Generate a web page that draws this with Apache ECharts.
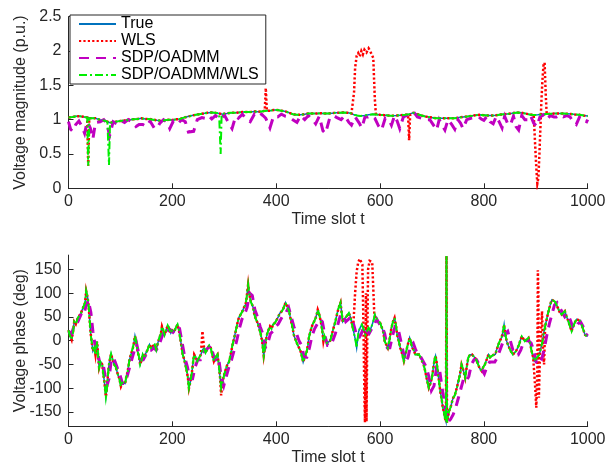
<!DOCTYPE html>
<html>
<head>
<meta charset="utf-8">
<script src="https://cdn.jsdelivr.net/npm/echarts@6/dist/echarts.min.js"></script>
<style>
  html, body { margin: 0; padding: 0; background: #fff; }
  #chart { width: 606px; height: 468px; }
</style>
</head>
<body>
<div id="chart"></div>
<script>
// ---- Labels ----
const seriesNames = ['True', 'WLS', 'SDP/OADMM', 'SDP/OADMM/WLS'];
const xTitle = 'Time slot t';
const magTitle = 'Voltage magnitude (p.u.)';
const phaseTitle = 'Voltage phase (deg)';
const phaseTicks = [-150, -100, -50, 0, 50, 100, 150];

// ---- Voltage magnitude: true trajectory ----
const magT = [0,8,15,22,30,38,45,52,60,68,75,80,88,95,103,110,118,125,133,140,148,155,163,170,178,185,193,200,208,215,222,230,238,245,252,260,268,275,282,290,297,305,312,320,328,335,343,350,358,365,372,380,388,395,402,410,418,425,432,440,447,455,462,470,478,485,492,500,508,515,522,530,538,545,550,556,562,570,578,586,593,600,608,616,624,632,640,648,656,664,672,680,688,696,704,712,720,728,736,744,752,760,768,776,784,792,800,808,816,824,832,840,848,856,864,872,880,888,896,904,912,920,928,936,944,952,960,968,976,984,992,1000];
const magTrue = [1.03,1.04,1.05,1.05,1.04,1.03,1.02,1.02,1.0,0.99,0.97,0.955,0.965,0.975,0.985,0.99,1.0,1.005,1.01,1.02,1.01,1.01,1.0,0.99,0.985,0.99,1.0,0.995,1.005,1.01,1.03,1.045,1.06,1.07,1.08,1.09,1.1,1.105,1.1,1.09,1.08,1.09,1.1,1.1,1.105,1.11,1.11,1.11,1.12,1.115,1.12,1.13,1.13,1.14,1.14,1.13,1.12,1.1,1.08,1.07,1.07,1.08,1.09,1.09,1.09,1.095,1.09,1.09,1.095,1.1,1.1,1.105,1.1,1.09,1.07,1.06,1.055,1.06,1.07,1.078,1.075,1.07,1.065,1.06,1.058,1.06,1.065,1.07,1.08,1.1,1.08,1.06,1.045,1.035,1.025,1.02,1.02,1.02,1.02,1.02,1.03,1.04,1.045,1.055,1.065,1.07,1.065,1.06,1.06,1.065,1.075,1.08,1.085,1.095,1.105,1.1,1.09,1.075,1.068,1.07,1.078,1.082,1.085,1.09,1.09,1.088,1.085,1.082,1.075,1.07,1.06,1.053];

// ---- Voltage magnitude: SDP/OADMM estimate ----
const sdpMagT = [0,4,8,14,20,26,31,36,42,47,52,61,68,74,79,86,93,100,108,115,122,130,136,143,150,157,165,170,176,183,190,195,202,210,218,225,231,241,248,257,263,270,276,283,292,300,308,315,322,327,335,343,350,358,365,372,380,388,395,403,410,418,425,432,440,447,455,462,470,476,483,490,495,503,510,517,525,532,540,545,552,560,565,571,577,583,590,597,603,610,617,622,628,633,638,645,654,664,672,680,688,696,703,709,714,719,725,731,738,744,750,755,760,767,775,783,790,795,800,806,812,818,824,830,835,840,846,851,857,862,867,873,879,885,890,896,902,908,915,921,928,935,940,947,953,960,966,972,978,985,992,998,1000];
const sdpMag = [0.97,0.86,0.83,0.93,0.98,0.9,0.8,0.97,0.88,0.72,0.96,0.97,1.0,0.95,0.76,0.97,0.94,0.99,0.96,1.0,0.97,0.9,0.93,0.93,0.9,0.98,0.88,0.87,0.95,1.0,0.96,0.87,0.98,0.94,1.0,0.97,0.82,0.83,1.0,1.03,1.02,1.06,1.01,1.06,1.0,1.07,0.96,0.87,1.05,1.02,1.08,1.0,0.97,1.08,1.04,1.08,1.02,0.88,1.05,1.04,1.08,1.05,1.04,1.0,0.96,1.06,1.0,1.06,1.0,0.94,1.05,0.84,0.8,1.02,1.06,1.03,1.0,1.06,0.96,0.92,1.04,0.95,0.88,1.04,1.04,1.06,1.02,0.91,0.85,1.02,1.0,0.92,1.06,0.98,0.87,1.04,1.07,1.12,1.04,1.02,1.0,1.0,0.92,0.85,1.0,0.93,0.85,1.0,0.93,0.86,1.0,0.95,0.87,1.0,1.02,1.03,1.04,1.01,0.99,1.05,0.97,0.94,1.05,0.96,0.88,1.05,0.94,0.92,1.05,0.9,0.85,1.06,1.0,1.0,1.06,0.95,0.9,1.04,1.07,1.0,1.06,1.04,1.04,1.07,1.04,1.06,1.04,0.97,0.93,1.05,0.99,0.97,1.0];

// ---- Voltage magnitude: WLS outliers (slot, value) ----
const wlsMagDip38 = [[36,1.03],[38,0.33],[40,1.02]];
const wlsMagSpike380 = [[378,1.13],[380,1.46],[382,1.13]];
const wlsMagBlock = [[548,1.09],[550,1.4],[552,1.75],[555,1.93],[558,1.97],[561,1.92],[564,2.0],[567,1.95],[570,2.02],[574,1.98],[578,2.04],[581,2.0],[584,1.98],[587,1.9],[589,1.5],[590,1.3],[592,1.08]];
const wlsMagDip656 = [[654,1.07],[656,0.70],[658,1.07]];
const wlsMagBlock900 = [[896,1.07],[899,0.6],[901,0.3],[903,0.07],[905,0.15],[907,0.5],[909,0.9],[911,1.3],[913,1.6],[915,1.8],[917,1.83],[919,1.4],[921,1.08]];

// ---- Voltage magnitude: SDP/OADMM/WLS outliers ----
const hybMagDip38 = [[36,1.03],[38,0.33],[40,1.02]];
const hybMagDip78 = [[76,0.965],[78,0.34],[80,0.955]];
const hybMagDip293 = [[291,1.09],[293,0.5],[295,1.085]];

// ---- Voltage phase: true trajectory ----
const phaseT = [0,3,6,9,11,14,18,21,24,27,30,32,34,36,37,39,41,43,45,47,50,52,55,57,59,62,65,67,69,72,74,75,77,79,82,85,88,91,95,98,101,104,106,109,111,114,117,120,124,126,128,130,133,136,138,141,143,146,149,152,156,159,162,166,169,172,175,178,180,183,185,188,191,194,197,200,204,207,210,213,216,220,223,225,228,230,232,235,238,240,242,245,248,252,255,258,261,264,267,271,274,277,280,283,287,290,292,294,297,300,303,306,309,311,314,316,319,322,325,328,331,335,338,341,343,346,348,351,354,356,358,360,364,367,370,373,376,379,382,385,388,391,394,398,401,404,407,411,414,416,418,421,425,427,429,432,434,438,441,444,447,450,452,455,459,461,463,466,470,473,476,478,480,483,486,489,491,493,495,498,501,504,507,510,514,517,520,522,524,526,528,531,533,536,540,543,545,548,551,553,555,557,559,562,565,568,572,575,578,581,585,588,590,593,596,600,603,606,609,612,615,618,622,625,628,631,633,636,639,642,646,649,652,655,657,660,662,665,668,671,675,678,681,684,687,690,694,697,700,703,705,707,709,712,714,716,719,721,723,725,727,728,729,731,733,736,739,741,744,748,751,754,757,760,764,767,770,773,777,780,783,786,789,792,796,799,802,806,809,812,815,818,822,825,828,831,834,837,839,841,844,847,849,852,856,859,862,865,868,870,873,876,879,882,886,889,892,895,897,900,902,905,907,910,913,916,920,923,926,929,931,934,937,940,943,946,950,953,956,959,963,966,969,972,976,979,982,985,988,991,995,998,1000];
const phaseTrue = [22,10,2,20,40,35,48,45,58,55,75,80,105,95,90,70,40,12,-5,-22,-15,-30,-2,-30,-57,-45,-50,-70,-85,-118,-100,-85,-60,-43,-28,-40,-50,-55,-71,-80,-96,-88,-85,-90,-78,-65,-43,-30,-15,-5,10,0,-22,-35,-50,-40,-29,-35,-26,-20,-8,-15,-12,-8,-19,-5,6,15,30,20,12,22,32,25,16,22,20,28,34,20,0,-29,-40,-50,-65,-78,-100,-85,-64,-45,-29,-35,-43,-35,-29,-20,-15,-25,-22,-10,-15,-30,-43,-35,-29,-55,-78,-99,-85,-71,-60,-50,-45,-36,-20,-8,5,20,35,48,52,62,70,75,90,118,100,82,75,68,55,48,38,27,15,-1,-32,-10,12,22,30,25,34,38,40,50,58,62,68,72,80,72,62,50,40,25,12,0,-8,-15,-22,-35,-45,-35,-22,-10,6,20,34,40,48,55,65,55,40,20,-1,10,6,-5,-8,0,12,25,40,55,68,72,80,60,40,45,48,52,58,50,40,25,10,-1,-15,5,20,28,34,25,12,20,27,22,34,45,55,48,40,38,34,20,-1,-8,-15,0,27,40,48,30,12,0,-15,-25,-43,-30,-15,-2,6,-5,-15,-20,-29,-25,-29,-35,-43,-50,-64,-80,-99,-90,-78,-55,-40,-32,-45,-71,-88,-106,-125,-141,-150,-162,-170,178,-172,-160,-148,-140,-127,-120,-115,-99,-85,-71,-50,-60,-78,-55,-36,-30,-29,-32,-36,-42,-50,-58,-64,-55,-50,-38,-29,-35,-36,-30,-29,-18,-8,0,6,20,34,15,-1,-10,-15,-22,-29,-25,-22,-15,-8,0,9,4,-1,2,6,-5,-22,-35,-43,-40,-36,-32,-29,-15,-1,20,40,55,68,80,86,84,82,75,68,60,55,58,62,52,40,30,20,30,40,45,48,42,34,25,12,8,9];

// ---- Voltage phase: SDP/OADMM estimate ----
const sdpPhaseT = [0,6,12,18,24,29,33,38,43,47,52,56,61,66,70,74,78,82,86,90,95,100,104,108,113,118,123,127,131,135,139,144,149,154,159,164,169,174,179,184,189,194,199,204,209,214,219,224,229,234,239,244,249,254,259,264,269,274,279,284,289,294,299,304,309,314,319,324,329,334,339,344,349,354,359,364,369,374,379,384,389,394,399,404,409,414,419,424,429,434,439,444,449,454,459,464,469,474,479,484,489,494,499,504,509,514,519,524,529,534,539,544,549,554,559,564,569,574,579,584,589,594,599,604,609,614,619,624,629,634,639,644,649,654,659,664,669,674,679,684,689,694,699,704,709,714,719,724,728,732,736,741,746,751,756,761,766,771,776,781,786,791,796,801,806,811,816,821,826,831,836,841,846,851,856,861,866,871,876,881,886,891,896,901,906,911,916,921,926,931,936,941,946,951,956,961,966,971,976,981,986,991,996,1000];
const sdpPhase = [20,15,35,40,55,52,70,85,60,20,-15,-25,-50,-45,-70,-95,-80,-45,-35,-45,-60,-75,-90,-90,-75,-55,-35,-20,-5,-25,-40,-40,-30,-20,-20,-15,-20,-10,5,20,15,25,20,15,25,25,-5,-35,-55,-80,-80,-55,-40,-40,-25,-20,-15,-10,-30,-40,-35,-75,-95,-75,-55,-40,-20,0,25,45,55,70,100,95,65,50,30,15,-15,-5,15,20,30,35,45,55,60,70,50,30,15,0,-10,-35,-35,-15,10,25,35,45,40,10,-10,-10,0,15,35,55,55,40,45,50,35,15,5,15,30,20,15,25,35,45,35,30,15,-15,-15,10,30,30,5,-20,-45,-35,-10,-5,-20,-30,-35,-45,-55,-75,-105,-95,-55,-55,-95,-130,-155,-170,-165,-155,-140,-120,-100,-80,-85,-75,-50,-40,-40,-50,-60,-70,-55,-45,-45,-45,-35,-20,-5,15,20,0,-20,-30,-30,-20,-5,0,0,-5,-20,-45,-50,-40,-20,10,35,55,75,80,70,60,50,55,45,30,25,35,40,30,15,10];

// ---- Voltage phase: WLS outliers ----
const wlsPhaseBump258 = [[255,-29],[258,20],[261,-15]];
const wlsPhaseDip294 = [[292,-78],[294,-115],[297,-85]];
const wlsPhaseBlock = [[548,25],[550,60],[552,100],[555,145],[558,165],[561,172],[564,175],[566,160],[568,40],[570,-120],[571,-172],[572,-60],[573,100],[574,-170],[575,-40],[577,150],[580,168],[583,172],[585,165],[587,110],[589,55],[592,45]];
const wlsPhaseBlock900 = [[895,-35],[899,-100],[901,-141],[903,-60],[904,148],[905,100],[906,-120],[908,-30],[910,20],[912,62],[914,-20],[916,-50],[918,30],[920,40]];

// Replace the base samples inside each outlier window by that window's points.
function withOverrides(ts, vs, groups) {
  let pts = ts.map((t, i) => [t, vs[i]]);
  groups.forEach(g => {
    const lo = g[0][0], hi = g[g.length - 1][0];
    pts = pts.filter(p => p[0] < lo || p[0] > hi).concat(g);
  });
  return pts.sort((a, b) => a[0] - b[0]);
}
const pairs = (ts, vs) => ts.map((t, i) => [t, vs[i]]);

const magTrueData = pairs(magT, magTrue);
const magWlsData = withOverrides(magT, magTrue, [wlsMagDip38, wlsMagSpike380, wlsMagBlock, wlsMagDip656, wlsMagBlock900]);
const magSdpData = pairs(sdpMagT, sdpMag);
const magHybData = withOverrides(magT, magTrue, [hybMagDip38, hybMagDip78, hybMagDip293]);

const phTrueData = pairs(phaseT, phaseTrue);
const phWlsData = withOverrides(phaseT, phaseTrue, [wlsPhaseBump258, wlsPhaseDip294, wlsPhaseBlock, wlsPhaseBlock900]);
const phSdpData = pairs(sdpPhaseT, sdpPhase);
const phHybData = pairs(phaseT, phaseTrue);

// ---- Styling ----
const FONT = "'Liberation Sans', Arial, Helvetica, sans-serif";
const AX = '#262626';
const styles = [
  { color: '#0072BD', width: 1.5, type: 'solid' },
  { color: '#FF0000', width: 2.5, type: [2.2, 2.2] },
  { color: '#C000C0', width: 3, type: [10, 7] },
  { color: '#00EE00', width: 2, type: [8, 3, 2, 3] }
];

function mkSeries(name, idx, data, axisIndex) {
  const s = styles[idx];
  return {
    name, type: 'line', data, xAxisIndex: axisIndex, yAxisIndex: axisIndex,
    symbol: 'none', showSymbol: false, animation: false, sampling: null,
    lineStyle: { color: s.color, width: s.width, type: s.type, cap: 'butt', join: 'miter' },
    itemStyle: { color: s.color },
    emphasis: { disabled: true }, z: 2 + idx
  };
}

const xAxisBase = (gridIndex) => ({
  type: 'value', gridIndex, min: 0, max: 1000, interval: 200,
  name: xTitle, nameLocation: 'middle', nameGap: 23, nameMoveOverlap: false,
  nameTextStyle: { fontFamily: FONT, fontSize: 16, color: AX },
  axisLine: { onZero: false, lineStyle: { color: AX, width: 1 } },
  axisTick: { inside: true, length: 5, lineStyle: { color: AX } },
  axisLabel: { fontFamily: FONT, fontSize: 16, color: AX, margin: 5, formatter: v => String(v) },
  splitLine: { show: false }
});

const option = {
  animation: false,
  backgroundColor: '#fff',
  grid: [
    { left: 68.5, right: 18.3, top: 16.7, height: 171.6, containLabel: false, outerBoundsMode: 'none' },
    { left: 68.5, right: 18.3, top: 255.1, height: 171.2, containLabel: false, outerBoundsMode: 'none' }
  ],
  legend: {
    data: seriesNames,
    orient: 'vertical', left: 70, top: 15,
    padding: [1, 7, 1, 8], itemGap: 1, itemWidth: 37, itemHeight: 10,
    backgroundColor: '#fff', borderColor: AX, borderWidth: 1,
    itemStyle: { opacity: 0 },
    textStyle: { fontFamily: FONT, fontSize: 16, color: '#000', lineHeight: 16 },
    selectedMode: false
  },
  xAxis: [xAxisBase(0), xAxisBase(1)],
  yAxis: [
    {
      type: 'value', gridIndex: 0, min: 0, max: 2.5, interval: 0.5,
      name: magTitle, nameLocation: 'middle', nameGap: 40, nameMoveOverlap: false,
      nameTextStyle: { fontFamily: FONT, fontSize: 16, color: AX },
      axisLine: { show: true, onZero: false, lineStyle: { color: AX, width: 1 } },
      axisTick: { show: true, inside: true, length: 5, lineStyle: { color: AX } },
      axisLabel: { fontFamily: FONT, fontSize: 16, color: AX, margin: 7 },
      splitLine: { show: false }
    },
    {
      type: 'value', gridIndex: 1, min: -180, max: 180,
      name: phaseTitle, nameLocation: 'middle', nameGap: 40, nameMoveOverlap: false,
      nameTextStyle: { fontFamily: FONT, fontSize: 16, color: AX },
      axisLine: { show: true, onZero: false, lineStyle: { color: AX, width: 1 } },
      axisTick: { show: true, inside: true, length: 5, lineStyle: { color: AX }, customValues: phaseTicks },
      axisLabel: { fontFamily: FONT, fontSize: 16, color: AX, margin: 7, customValues: phaseTicks },
      splitLine: { show: false }
    }
  ],
  series: [
    mkSeries(seriesNames[0], 0, magTrueData, 0),
    mkSeries(seriesNames[1], 1, magWlsData, 0),
    mkSeries(seriesNames[2], 2, magSdpData, 0),
    mkSeries(seriesNames[3], 3, magHybData, 0),
    mkSeries(seriesNames[0], 0, phTrueData, 1),
    mkSeries(seriesNames[1], 1, phWlsData, 1),
    mkSeries(seriesNames[2], 2, phSdpData, 1),
    mkSeries(seriesNames[3], 3, phHybData, 1)
  ]
};

const chart = echarts.init(document.getElementById('chart'), null, { renderer: 'canvas' });
chart.setOption(option);
</script>
</body>
</html>
